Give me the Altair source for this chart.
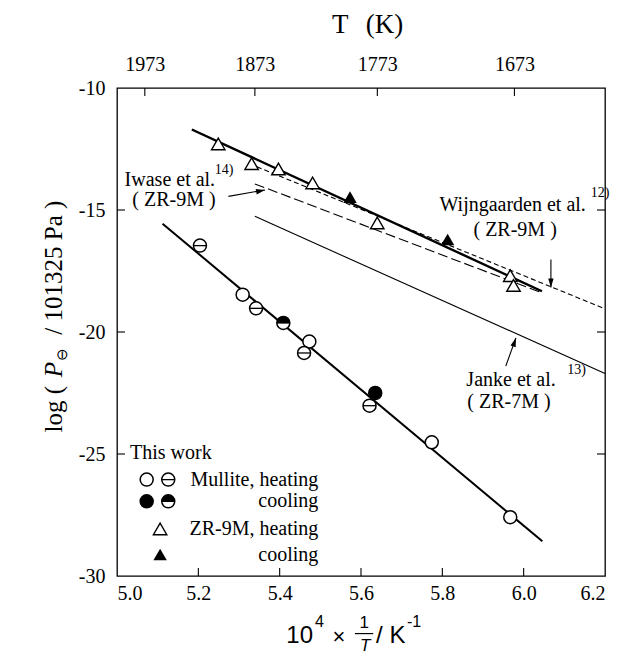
import altair as alt
import pandas as pd

SERIF = "Liberation Serif"
SANS = "Liberation Sans"

# ---------------- data ----------------
x_ticks = [5.0, 5.2, 5.4, 5.6, 5.8, 6.0, 6.2]
y_ticks = [-30, -25, -20, -15, -10]
top_T = [1973, 1873, 1773, 1673]

# Mullite (this work)
mul_x = [5.204, 5.309, 5.342, 5.409, 5.473, 5.460, 5.635, 5.621, 5.774, 5.967]
mul_y = [-16.46, -18.47, -19.03, -19.63, -20.39, -20.86, -22.50, -23.02, -24.52, -27.59]
mul_kind = ["minus", "open", "minus", "half", "open", "minus", "filled", "minus", "open", "open"]

# ZR-9M (this work)
zr_x = [5.249, 5.331, 5.397, 5.481, 5.573, 5.640, 5.813, 5.967, 5.975]
zr_y = [-12.29, -13.10, -13.32, -13.89, -14.47, -15.53, -16.21, -17.69, -18.09]
zr_kind = ["open", "open", "open", "open", "filled", "open", "filled", "open", "open"]

# fitted / literature lines (end points)
mul_line_x = [5.112, 6.046]
mul_line_y = [-15.56, -28.58]
zr_line_x = [5.184, 6.045]
zr_line_y = [-11.70, -18.33]
iwase_x = [5.339, 6.041]
iwase_y = [-13.93, -18.37]
wijn_x = [5.344, 6.2]
wijn_y = [-13.23, -19.05]
janke_x = [5.339, 6.2]
janke_y = [-15.26, -21.70]

# annotations
ann_text = ["Iwase et al.", "( ZR-9M )", "Wijngaarden et al.", "( ZR-9M )", "Janke et al.", "( ZR-7M )"]
ann_x = [5.130, 5.140, 5.973, 5.979, 5.969, 5.964]
ann_y = [-13.75, -14.60, -14.78, -15.83, -21.97, -22.86]
sup_text = ["14)", "12)", "13)"]
sup_x = [5.263, 6.188, 6.130]
sup_y = [-13.35, -14.30, -21.55]

# arrows: tail -> tip, heading angle (deg, clockwise from up)
arr_x0 = [5.274, 6.067, 5.956]
arr_y0 = [-14.44, -17.03, -21.40]
arr_x1 = [5.364, 6.067, 5.981]
arr_y1 = [-14.18, -18.18, -20.24]
arr_ang = [78.7, 180.0, 18.4]

# legend
leg_title = "This  work"
leg_labels = ["Mullite, heating", "cooling", "ZR-9M, heating", "cooling"]
leg_y = [-26.05, -26.94, -28.07, -29.12]
leg_title_x, leg_title_y = 5.032, -24.94
leg_text_x = 5.495
leg_sym1_x = 5.073
leg_sym2_x = 5.126
leg_tri_x = 5.106

# axis title pieces (text, x, y)
xtitle_main = ["10", "/ K"]
xtitle_main_x = [5.482, 5.637]
xtitle_main_align = ["right", "left"]
xtitle_sup = ["4", "-1"]
xtitle_sup_x = [5.487, 5.713]
xtitle_y = -32.44
xtitle_sup_y = -31.87

ytitle_parts = ["log (", "P", "⊖", "/ 101325 Pa )"]
ytitle_start = [-24.12, -21.85, -21.17, -20.11]
ytitle_xpos = [4.845, 4.845, 4.864, 4.845]

ttitle_parts = ["T", "(K)"]
ttitle_x = [5.549, 5.658]
ttitle_y = -7.40

# ---------------- helpers ----------------
xs = alt.Scale(domain=[5.0, 6.2], nice=False, zero=False)
ys = alt.Scale(domain=[-30, -10], nice=False, zero=False)

AXX = alt.Axis(values=x_ticks, labelExpr="format(datum.value, '.1f')", title=None,
               tickSize=0, domain=False, grid=False, labelFont=SERIF, labelFontSize=20,
               labelColor="black", labelPadding=7)
AXY = alt.Axis(values=y_ticks, labelExpr="'' + datum.value", title=None,
               tickSize=0, domain=False, grid=False, labelFont=SERIF, labelFontSize=20,
               labelColor="black", labelPadding=12)


def X(f="x"):
    return alt.X(f"{f}:Q", scale=xs, axis=AXX)


def Y(f="y"):
    return alt.Y(f"{f}:Q", scale=ys, axis=AXY)


def seg(xv, yv):
    return pd.DataFrame({"x": xv, "y": yv})


def txt(df, **kw):
    base = dict(color="black", baseline="middle")
    base.update(kw)
    return alt.Chart(df).mark_text(**base).encode(x=X(), y=Y(), text="t:N")


layers = []

# lines
layers.append(alt.Chart(seg(janke_x, janke_y)).mark_line(color="black", strokeWidth=1.1).encode(x=X(), y=Y()))
layers.append(alt.Chart(seg(wijn_x, wijn_y)).mark_line(color="black", strokeWidth=1.1, strokeDash=[5, 3]).encode(x=X(), y=Y()))
layers.append(alt.Chart(seg(iwase_x, iwase_y)).mark_line(color="black", strokeWidth=1.1, strokeDash=[10, 4]).encode(x=X(), y=Y()))
layers.append(alt.Chart(seg(zr_line_x, zr_line_y)).mark_line(color="black", strokeWidth=2.4).encode(x=X(), y=Y()))
layers.append(alt.Chart(seg(mul_line_x, mul_line_y)).mark_line(color="black", strokeWidth=2.0).encode(x=X(), y=Y()))

SZ = 169
TSZ = 180


def circles(df):
    return [
        alt.Chart(df).mark_point(shape="circle", size=SZ, filled=True, fill="white",
                                 stroke="black", strokeWidth=1.5, opacity=1).encode(x=X(), y=Y()),
        alt.Chart(df).transform_filter("datum.k == 'filled'")
        .mark_point(shape="circle", size=SZ, filled=True, color="black", opacity=1).encode(x=X(), y=Y()),
        alt.Chart(df).transform_filter("datum.k == 'half'")
        .mark_point(shape="M-1,0A1,1 0 0,1 1,0Z", size=SZ, filled=True, color="black", opacity=1)
        .encode(x=X(), y=Y()),
        alt.Chart(df).transform_filter("datum.k == 'minus' || datum.k == 'half'")
        .mark_point(shape="M-1,0L1,0", size=SZ, filled=False, color="black", strokeWidth=1.3, opacity=1)
        .encode(x=X(), y=Y()),
    ]


def triangles(df):
    return [
        alt.Chart(df).transform_filter("datum.k == 'open'")
        .mark_point(shape="triangle-up", size=TSZ, filled=True, fill="white", stroke="black",
                    strokeWidth=1.4, opacity=1).encode(x=X(), y=Y()),
        alt.Chart(df).transform_filter("datum.k == 'filled'")
        .mark_point(shape="triangle-up", size=TSZ, filled=True, color="black", opacity=1)
        .encode(x=X(), y=Y()),
    ]


layers += circles(pd.DataFrame({"x": mul_x, "y": mul_y, "k": mul_kind}))
layers += triangles(pd.DataFrame({"x": zr_x, "y": zr_y, "k": zr_kind}))

# annotations
layers.append(txt(pd.DataFrame({"x": ann_x, "y": ann_y, "t": ann_text}),
                  font=SERIF, fontSize=20, align="center"))
layers.append(txt(pd.DataFrame({"x": sup_x, "y": sup_y, "t": sup_text}),
                  font=SERIF, fontSize=14, align="center"))

arr = pd.DataFrame({"x": arr_x0, "y": arr_y0, "x2": arr_x1, "y2": arr_y1, "a": arr_ang})
layers.append(alt.Chart(arr).mark_rule(color="black", strokeWidth=1.1)
              .encode(x=X(), y=Y(), x2="x2:Q", y2="y2:Q"))
layers.append(alt.Chart(arr).mark_point(shape="M0,0L0.6,2L-0.6,2Z", size=81, filled=True,
                                        color="black", opacity=1)
              .encode(x=X("x2"), y=Y("y2"), angle=alt.Angle("a:Q", scale=None)))

# legend
layers.append(txt(pd.DataFrame({"x": [leg_title_x], "y": [leg_title_y], "t": [leg_title]}),
                  font=SERIF, fontSize=20, align="left"))
layers.append(txt(pd.DataFrame({"x": [leg_text_x] * 4, "y": leg_y, "t": leg_labels}),
                  font=SERIF, fontSize=20, align="right"))
layers += circles(pd.DataFrame({"x": [leg_sym1_x, leg_sym2_x, leg_sym1_x, leg_sym2_x],
                                "y": [leg_y[0], leg_y[0], leg_y[1], leg_y[1]],
                                "k": ["open", "minus", "filled", "half"]}))
layers += triangles(pd.DataFrame({"x": [leg_tri_x, leg_tri_x], "y": [leg_y[2], leg_y[3]],
                                  "k": ["open", "filled"]}))

# inward ticks
TX = 8 / 24.4
TY = 8 / 406.5
top_vals = [10000.0 / t for t in top_T]
layers.append(alt.Chart(pd.DataFrame({"x": x_ticks[1:-1]})).mark_rule(color="black", strokeWidth=1.1)
              .encode(x=X(), y=alt.datum(-30, scale=ys), y2=alt.datum(-30 + TX)))
layers.append(alt.Chart(pd.DataFrame({"x": top_vals})).mark_rule(color="black", strokeWidth=1.1)
              .encode(x=X(), y=alt.datum(-10, scale=ys), y2=alt.datum(-10 - TX)))
lt = pd.DataFrame({"y": y_ticks[1:-1]})
layers.append(alt.Chart(lt).mark_rule(color="black", strokeWidth=1.1)
              .encode(y=Y(), x=alt.datum(5.0, scale=xs), x2=alt.datum(5.0 + TY)))
layers.append(alt.Chart(lt).mark_rule(color="black", strokeWidth=1.1)
              .encode(y=Y(), x=alt.datum(6.2, scale=xs), x2=alt.datum(6.2 - TY)))

# x-axis title: 10^4 x 1/T / K^-1
for t, xx, al in zip(xtitle_main, xtitle_main_x, xtitle_main_align):
    layers.append(txt(pd.DataFrame({"x": [xx], "y": [xtitle_y], "t": [t]}),
                      font=SANS, fontSize=24, align=al))
layers.append(txt(pd.DataFrame({"x": xtitle_sup_x, "y": [xtitle_sup_y] * 2, "t": xtitle_sup}),
                  font=SANS, fontSize=16, align="left"))
layers.append(txt(pd.DataFrame({"x": [5.546], "y": [-32.52], "t": ["×"]}),
                  font=SANS, fontSize=22, align="center"))
layers.append(txt(pd.DataFrame({"x": [5.608], "y": [-31.91], "t": ["1"]}),
                  font=SANS, fontSize=17, align="center"))
layers.append(txt(pd.DataFrame({"x": [5.610], "y": [-32.85], "t": ["T"]}),
                  font=SANS, fontSize=17, fontStyle="italic", align="center"))
layers.append(alt.Chart(pd.DataFrame({"x": [5.585], "x2": [5.630], "y": [-32.36]}))
              .mark_rule(color="black", strokeWidth=1.2).encode(x=X(), x2="x2:Q", y=Y()))

# y-axis title: log ( P_⊖ / 101325 Pa ), rotated
ysz = [25, 25, 15, 25]
ysty = ["normal", "italic", "normal", "normal"]
for t, y0, xx, fs, st in zip(ytitle_parts, ytitle_start, ytitle_xpos, ysz, ysty):
    layers.append(txt(pd.DataFrame({"x": [xx], "y": [y0], "t": [t]}),
                      font=SERIF, fontSize=fs, fontStyle=st, align="left", angle=270))

# top title: T (K)
layers.append(txt(pd.DataFrame({"x": ttitle_x, "y": [ttitle_y] * 2, "t": ttitle_parts}),
                  font=SERIF, fontSize=27, align="center"))

main = alt.layer(*layers)

# top temperature axis
top = alt.Chart(pd.DataFrame({"tx": top_vals})).mark_point(opacity=0).encode(
    x=alt.X("tx:Q", scale=alt.Scale(domain=[5.0, 6.2], nice=False, zero=False),
            axis=alt.Axis(orient="top", values=top_vals,
                          labelExpr="format(10000 / datum.value, '.0f')",
                          title=None, tickSize=0, domain=False, grid=False,
                          labelFont=SERIF, labelFontSize=20, labelColor="black", labelPadding=14)),
)

chart = alt.layer(main, top).resolve_scale(x="independent").properties(
    width=488, height=488,
    padding={"left": 109, "top": 80, "right": 10, "bottom": 81},
    autosize=alt.AutoSizeParams(type="none"),
).configure_view(stroke="black", strokeWidth=1.3)

chart.save("out.html", embed_options={"renderer": "svg", "actions": False})
